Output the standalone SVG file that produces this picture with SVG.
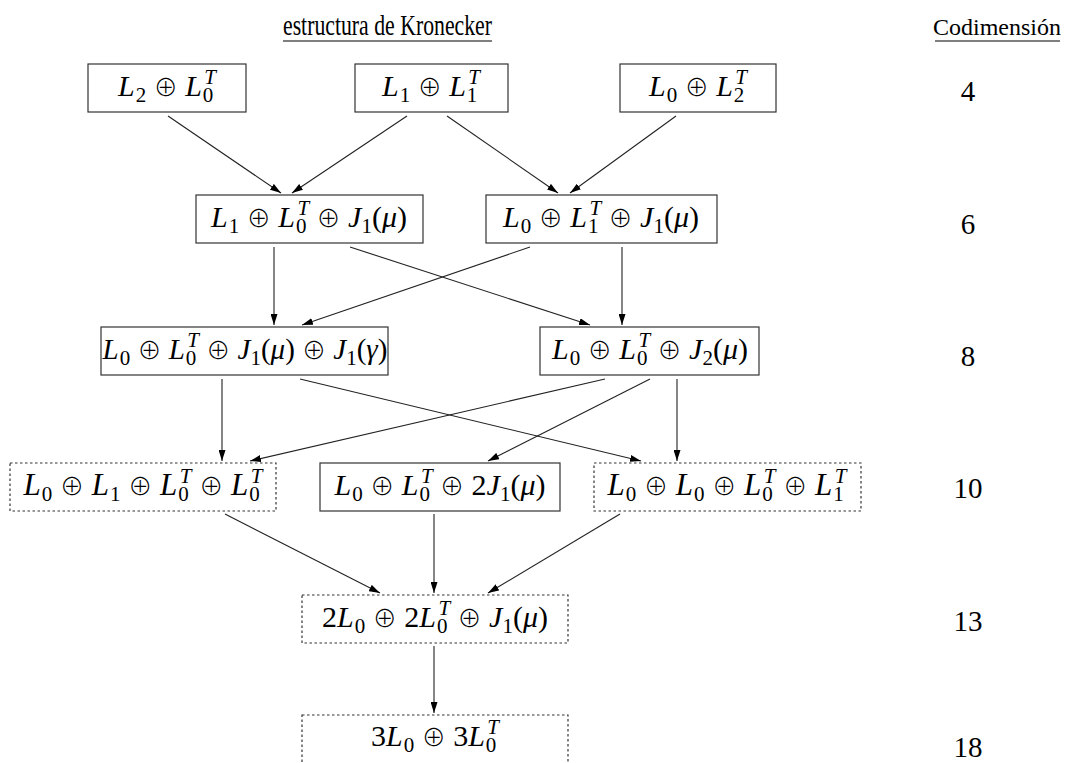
<svg xmlns="http://www.w3.org/2000/svg" width="1067" height="763" viewBox="0 0 1067 763">
<defs>
<marker id="ah" viewBox="0 0 11 7" refX="11" refY="3.5" markerWidth="11" markerHeight="7" markerUnits="userSpaceOnUse" orient="auto">
<path d="M0,0 L11,3.5 L0,7 z" fill="#000"/>
</marker>
<style>
.box{fill:#fff;stroke:#333;stroke-width:1.2}
.dot{fill:#fff;stroke:#333;stroke-width:1.2;stroke-dasharray:2.5,2.5}
.m{font-family:"Liberation Serif","DejaVu Serif",serif;font-size:30px;text-anchor:middle;fill:#000}
.w{font-size:31px}
.i{font-style:italic}
.s{font-size:21px}
.o{font-family:"Noto Sans CJK JP","DejaVu Sans",sans-serif;font-weight:300;font-size:24px}
.h{font-family:"Liberation Serif","DejaVu Serif",serif;font-size:29px;text-anchor:start;fill:#000}
.h2{font-family:"Liberation Serif","DejaVu Serif",serif;font-size:24px;text-anchor:middle;fill:#000}
.n{font-family:"Liberation Serif","DejaVu Serif",serif;font-size:29px;text-anchor:middle;fill:#000}
.c line{stroke:#222;stroke-width:1.1;marker-end:url(#ah)}
</style>
</defs>
<rect width="1067" height="763" fill="#fff"/>
<g id="headers">
<text class="h" x="283" y="35" textLength="209" lengthAdjust="spacingAndGlyphs">estructura de Kronecker</text>
<line x1="283" y1="41" x2="492" y2="41" stroke="#000" stroke-width="1.2"/>
<text class="h2" x="997" y="35">Codimensión</text>
<line x1="935" y1="41" x2="1060" y2="41" stroke="#000" stroke-width="1.2"/>
</g>
<g id="codims">
<text class="n" x="968" y="101">4</text>
<text class="n" x="968" y="234">6</text>
<text class="n" x="968" y="366">8</text>
<text class="n" x="968" y="498">10</text>
<text class="n" x="968" y="631">13</text>
<text class="n" x="968" y="757">18</text>
</g>
<g class="c" id="connectors">
<line x1="168" y1="116" x2="281" y2="193"/>
<line x1="407" y1="116" x2="292" y2="193"/>
<line x1="447" y1="116" x2="558" y2="193"/>
<line x1="676" y1="116" x2="570" y2="193"/>
<line x1="274" y1="247" x2="274" y2="325"/>
<line x1="350" y1="247" x2="590" y2="325"/>
<line x1="530" y1="247" x2="302" y2="325"/>
<line x1="622" y1="247" x2="622" y2="325"/>
<line x1="222" y1="379" x2="222" y2="461"/>
<line x1="300" y1="379" x2="641" y2="461"/>
<line x1="605" y1="379" x2="250" y2="461"/>
<line x1="650" y1="379" x2="488" y2="461"/>
<line x1="677" y1="379" x2="677" y2="461"/>
<line x1="225" y1="514" x2="380" y2="593"/>
<line x1="434" y1="514" x2="434" y2="593"/>
<line x1="620" y1="514" x2="488" y2="593"/>
<line x1="434" y1="646" x2="434" y2="713"/>
</g>
<g id="n1">
<rect class="box" x="88" y="64" width="158" height="48"/>
<text class="m" x="167" y="96"><tspan class="i">L</tspan><tspan class="s" dx="1" dy="6">2</tspan><tspan dy="-6"> <tspan class="o">⊕</tspan> </tspan><tspan class="i">L</tspan><tspan class="s" dx="1" dy="6">0</tspan><tspan class="s i" dx="-9" dy="-18">T</tspan></text>
</g>
<g id="n2">
<rect class="box" x="355" y="64" width="153" height="48"/>
<text class="m" x="431" y="96"><tspan class="i">L</tspan><tspan class="s" dx="1" dy="6">1</tspan><tspan dy="-6"> <tspan class="o">⊕</tspan> </tspan><tspan class="i">L</tspan><tspan class="s" dx="1" dy="6">1</tspan><tspan class="s i" dx="-9" dy="-18">T</tspan></text>
</g>
<g id="n3">
<rect class="box" x="620" y="64" width="156" height="48"/>
<text class="m" x="698" y="96"><tspan class="i">L</tspan><tspan class="s" dx="1" dy="6">0</tspan><tspan dy="-6"> <tspan class="o">⊕</tspan> </tspan><tspan class="i">L</tspan><tspan class="s" dx="1" dy="6">2</tspan><tspan class="s i" dx="-9" dy="-18">T</tspan></text>
</g>
<g id="n4">
<rect class="box" x="196" y="195" width="227" height="48"/>
<text class="m" x="309" y="227"><tspan class="i">L</tspan><tspan class="s" dx="1" dy="6">1</tspan><tspan dy="-6"> <tspan class="o">⊕</tspan> </tspan><tspan class="i">L</tspan><tspan class="s" dx="1" dy="6">0</tspan><tspan class="s i" dx="-9" dy="-18">T</tspan><tspan dy="12"> <tspan class="o">⊕</tspan> </tspan><tspan class="i">J</tspan><tspan class="s" dy="6">1</tspan><tspan dy="-6">(</tspan><tspan class="i">μ</tspan>)</text>
</g>
<g id="n5">
<rect class="box" x="486" y="195" width="231" height="48"/>
<text class="m" x="601" y="227"><tspan class="i">L</tspan><tspan class="s" dx="1" dy="6">0</tspan><tspan dy="-6"> <tspan class="o">⊕</tspan> </tspan><tspan class="i">L</tspan><tspan class="s" dx="1" dy="6">1</tspan><tspan class="s i" dx="-9" dy="-18">T</tspan><tspan dy="12"> <tspan class="o">⊕</tspan> </tspan><tspan class="i">J</tspan><tspan class="s" dy="6">1</tspan><tspan dy="-6">(</tspan><tspan class="i">μ</tspan>)</text>
</g>
<g id="n6">
<rect class="box" x="101" y="327" width="287" height="48"/>
<text class="m" x="245" y="359" style="font-size:29px"><tspan class="i">L</tspan><tspan class="s" dx="1" dy="6">0</tspan><tspan dy="-6"> <tspan class="o">⊕</tspan> </tspan><tspan class="i">L</tspan><tspan class="s" dx="1" dy="6">0</tspan><tspan class="s i" dx="-9" dy="-18">T</tspan><tspan dy="12"> <tspan class="o">⊕</tspan> </tspan><tspan class="i">J</tspan><tspan class="s" dy="6">1</tspan><tspan dy="-6">(</tspan><tspan class="i">μ</tspan>) <tspan class="o">⊕</tspan> <tspan class="i">J</tspan><tspan class="s" dy="6">1</tspan><tspan dy="-6">(</tspan><tspan class="i">γ</tspan>)</text>
</g>
<g id="n7">
<rect class="box" x="540" y="327" width="219" height="48"/>
<text class="m" x="650" y="359"><tspan class="i">L</tspan><tspan class="s" dx="1" dy="6">0</tspan><tspan dy="-6"> <tspan class="o">⊕</tspan> </tspan><tspan class="i">L</tspan><tspan class="s" dx="1" dy="6">0</tspan><tspan class="s i" dx="-9" dy="-18">T</tspan><tspan dy="12"> <tspan class="o">⊕</tspan> </tspan><tspan class="i">J</tspan><tspan class="s" dy="6">2</tspan><tspan dy="-6">(</tspan><tspan class="i">μ</tspan>)</text>
</g>
<g id="n8">
<rect class="dot" x="10" y="463" width="266" height="48"/>
<text class="m w" x="143" y="495"><tspan class="i">L</tspan><tspan class="s" dx="1" dy="6">0</tspan><tspan dy="-6"> <tspan class="o">⊕</tspan> </tspan><tspan class="i">L</tspan><tspan class="s" dx="1" dy="6">1</tspan><tspan dy="-6"> <tspan class="o">⊕</tspan> </tspan><tspan class="i">L</tspan><tspan class="s" dx="1" dy="6">0</tspan><tspan class="s i" dx="-9" dy="-18">T</tspan><tspan dy="12"> <tspan class="o">⊕</tspan> </tspan><tspan class="i">L</tspan><tspan class="s" dx="1" dy="6">0</tspan><tspan class="s i" dx="-9" dy="-18">T</tspan></text>
</g>
<g id="n9">
<rect class="box" x="320" y="463" width="240" height="48"/>
<text class="m" x="440" y="495"><tspan class="i">L</tspan><tspan class="s" dx="1" dy="6">0</tspan><tspan dy="-6"> <tspan class="o">⊕</tspan> </tspan><tspan class="i">L</tspan><tspan class="s" dx="1" dy="6">0</tspan><tspan class="s i" dx="-9" dy="-18">T</tspan><tspan dy="12"> <tspan class="o">⊕</tspan> 2</tspan><tspan class="i">J</tspan><tspan class="s" dy="6">1</tspan><tspan dy="-6">(</tspan><tspan class="i">μ</tspan>)</text>
</g>
<g id="n10">
<rect class="dot" x="594" y="463" width="267" height="48"/>
<text class="m w" x="727" y="495"><tspan class="i">L</tspan><tspan class="s" dx="1" dy="6">0</tspan><tspan dy="-6"> <tspan class="o">⊕</tspan> </tspan><tspan class="i">L</tspan><tspan class="s" dx="1" dy="6">0</tspan><tspan dy="-6"> <tspan class="o">⊕</tspan> </tspan><tspan class="i">L</tspan><tspan class="s" dx="1" dy="6">0</tspan><tspan class="s i" dx="-9" dy="-18">T</tspan><tspan dy="12"> <tspan class="o">⊕</tspan> </tspan><tspan class="i">L</tspan><tspan class="s" dx="1" dy="6">1</tspan><tspan class="s i" dx="-9" dy="-18">T</tspan></text>
</g>
<g id="n11">
<rect class="dot" x="302" y="595" width="266" height="48"/>
<text class="m" x="435" y="627">2<tspan class="i">L</tspan><tspan class="s" dx="1" dy="6">0</tspan><tspan dy="-6"> <tspan class="o">⊕</tspan> 2</tspan><tspan class="i">L</tspan><tspan class="s" dx="1" dy="6">0</tspan><tspan class="s i" dx="-9" dy="-18">T</tspan><tspan dy="12"> <tspan class="o">⊕</tspan> </tspan><tspan class="i">J</tspan><tspan class="s" dy="6">1</tspan><tspan dy="-6">(</tspan><tspan class="i">μ</tspan>)</text>
</g>
<g id="n12">
<rect class="dot" x="302" y="715" width="266" height="60"/>
<text class="m" x="435" y="746">3<tspan class="i">L</tspan><tspan class="s" dx="1" dy="6">0</tspan><tspan dy="-6"> <tspan class="o">⊕</tspan> 3</tspan><tspan class="i">L</tspan><tspan class="s" dx="1" dy="6">0</tspan><tspan class="s i" dx="-9" dy="-18">T</tspan></text>
</g>
</svg>
